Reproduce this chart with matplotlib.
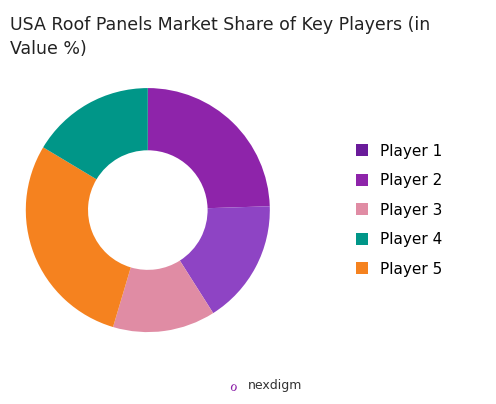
import matplotlib.pyplot as plt
from matplotlib.patches import Patch

# Slices in drawing order (clockwise from top)
slice_labels = ["Player 2", "Player 2b", "Player 3", "Player 5", "Player 4"]
slice_values = [24.5, 16.5, 13.6, 29, 16.4]
slice_colors = ["#8E24AA", "#8E44C4", "#E08CA4", "#F5821F", "#009688"]

legend_labels = ["Player 1", "Player 2", "Player 3", "Player 4", "Player 5"]
legend_colors = ["#6A1B9A", "#8E24AA", "#E08CA4", "#009688", "#F5821F"]

fig = plt.figure(figsize=(4.96, 4.04), dpi=100)
ax = fig.add_axes([0.052, 0.178, 0.492, 0.604])
ax.pie(slice_values, colors=slice_colors, startangle=90, counterclock=False,
       wedgeprops=dict(width=0.51, linewidth=0))
ax.set_xlim(-1, 1)
ax.set_ylim(-1, 1)
ax.set_aspect("equal")

fig.text(0.02, 0.96, "USA Roof Panels Market Share of Key Players (in\nValue %)",
         fontsize=12.5, va="top", ha="left", color="#222222", linespacing=1.4)

handles = [Patch(facecolor=c) for c in legend_colors]
fig.legend(handles, legend_labels, loc="center left", bbox_to_anchor=(0.69, 0.48),
           frameon=False, fontsize=11, handlelength=0.8, handleheight=0.8,
           labelspacing=0.95)

fig.text(0.5, 0.045, "nexdigm", fontsize=9, ha="left", va="center", color="#333333")
fig.text(0.47, 0.045, "\u2134", fontsize=12, ha="center", va="center", color="#8E24AA")

fig.savefig("out.png", dpi=100)
